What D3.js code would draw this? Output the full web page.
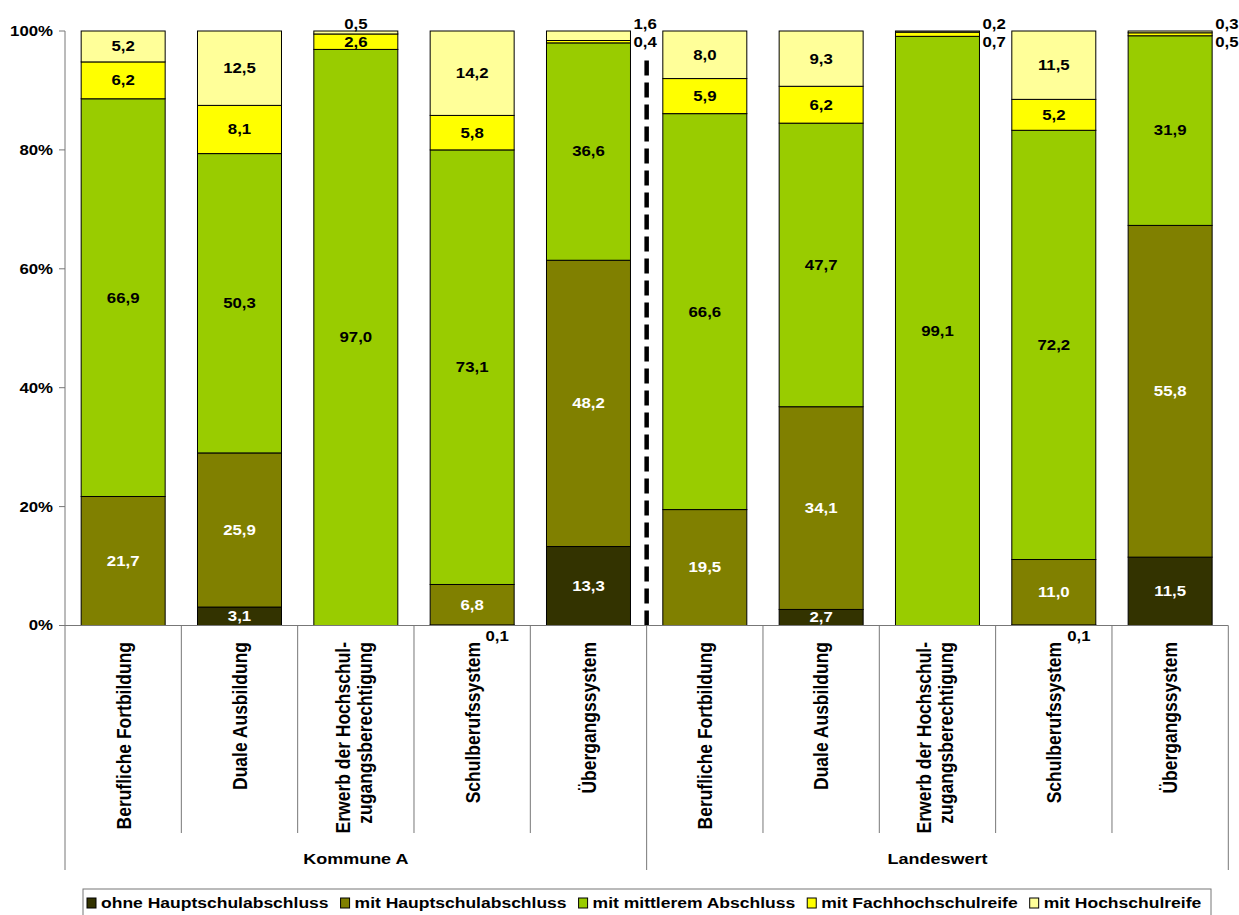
<!DOCTYPE html>
<html>
<head>
<meta charset="utf-8">
<script src="https://cdn.jsdelivr.net/npm/d3@7"></script>
<style>
  body { margin: 0; background: #fff; }
  text { font-family: "Liberation Sans", Arial, sans-serif; font-weight: bold; }
</style>
</head>
<body>
<div id="chart"></div>
<script>
// categories and groups
const categories = ["Berufliche Fortbildung", "Duale Ausbildung", "Erwerb der Hochschul-|zugangsberechtigung", "Schulberufssystem", "Übergangssystem"];
const groups = ["Kommune A", "Landeswert"];
const seriesNames = ["ohne Hauptschulabschluss", "mit Hauptschulabschluss", "mit mittlerem Abschluss", "mit Fachhochschulreife", "mit Hochschulreife"];
const seriesColors = ["#333300", "#808000", "#99cc00", "#ffff00", "#ffff99"];
const yTicks = [0, 0.2, 0.4, 0.6, 0.8, 1];

// values per series, first 5 = Kommune A, last 5 = Landeswert
const ohne  = [0, 3.1, 0, 0.1, 13.3, 0, 2.7, 0, 0.1, 11.5];
const mitHS = [21.7, 25.9, 0, 6.8, 48.2, 19.5, 34.1, 0, 11.0, 55.8];
const mittl = [66.9, 50.3, 97.0, 73.1, 36.6, 66.6, 47.7, 99.1, 72.2, 31.9];
const fhr   = [6.2, 8.1, 2.6, 5.8, 0.4, 5.9, 6.2, 0.7, 5.2, 0.5];
const hr    = [5.2, 12.5, 0.5, 14.2, 1.6, 8.0, 9.3, 0.2, 11.5, 0.3];

const seriesValues = [ohne, mitHS, mittl, fhr, hr];

// table for d3.stack
const rows = [];
groups.forEach((g, gi) => {
  categories.forEach((c, ci) => {
    let idx = gi * categories.length + ci;
    let r = { key: idx, cat: c, group: g };
    seriesValues.forEach((s, si) => { r["s" + si] = s[idx]; });
    rows.push(r);
  });
});

const W = 1239, H = 915;
const S = 1.2; // horizontal stretch of the text like the original
const plotL = 65, plotR = 1228.3, plotT = 31, plotB = 625.5;

let svg = d3.select("#chart").append("svg")
  .attr("width", W).attr("height", H);

let x = d3.scaleBand().domain(rows.map(d => d.key)).range([plotL, plotR]).padding(0);
let barW = x.bandwidth() * 0.722;
let y = d3.scaleLinear().domain([0, 1]).range([plotB, plotT]);

let stack = d3.stack().keys(seriesNames.map((s, i) => "s" + i)).offset(d3.stackOffsetExpand);
let stacked = stack(rows);

function place(sel, px, py, extra) {
  return sel.attr("transform", "translate(" + px + "," + py + ") scale(" + S + ",1)" + (extra || ""));
}

// y axis
let yAxis = svg.append("g");
yAxis.append("line").attr("x1", plotL).attr("x2", plotL).attr("y1", plotT).attr("y2", plotB)
  .attr("stroke", "#777").attr("stroke-width", 1);
yTicks.forEach(t => {
  yAxis.append("line").attr("x1", plotL - 6).attr("x2", plotL).attr("y1", y(t)).attr("y2", y(t))
    .attr("stroke", "#777");
  place(yAxis.append("text"), plotL - 12, y(t))
    .attr("text-anchor", "end").attr("dy", "0.35em").attr("font-size", 14)
    .text(d3.format(".0%")(t));
});

// bars
let layers = svg.selectAll(".layer").data(stacked).enter().append("g")
  .attr("class", "layer")
  .attr("fill", (d, i) => seriesColors[i]);

layers.selectAll("rect").data(d => d.filter(p => p[1] - p[0] > 0)).enter().append("rect")
  .attr("x", d => x(d.data.key) + (x.bandwidth() - barW) / 2)
  .attr("width", barW)
  .attr("y", d => y(d[1]))
  .attr("height", d => y(d[0]) - y(d[1]))
  .attr("stroke", "#000").attr("stroke-width", 1);

// value labels
let labels = svg.append("g");
stacked.forEach((layer, si) => {
  layer.forEach((p, bi) => {
    let v = seriesValues[si][bi];
    if (!v) return;
    let cx = x(p.data.key) + x.bandwidth() / 2;
    let barRight = cx + barW / 2;
    let fhSmall = fhr[bi] < 1;
    let px = cx, py = y((p[0] + p[1]) / 2), anchor = "middle";
    let outside = false;
    if (si === 0 && v < 1) { px = cx + 25; py = plotB + 11; outside = true; }
    else if (fhSmall && si === 4) { px = barRight + 3; py = y(1) - 7; anchor = "start"; outside = true; }
    else if (fhSmall && si === 3) { px = barRight + 3; py = y(1) + 11.5; anchor = "start"; outside = true; }
    else if (si === 4 && v < 1) { py = y(1) - 7; outside = true; }
    place(labels.append("text"), px, py)
      .attr("text-anchor", anchor).attr("dy", "0.35em").attr("font-size", 14)
      .attr("fill", (si < 2 && !outside) ? "#fff" : "#000")
      .text(d3.format(".1f")(v).replace(".", ","));
  });
});

// dashed separator between the two groups
let midX = x(categories.length);
svg.append("line").attr("x1", midX).attr("x2", midX).attr("y1", plotB).attr("y2", 60)
  .attr("stroke", "#000").attr("stroke-width", 4.5).attr("stroke-dasharray", "15,7");

// x axis
let xAxis = svg.append("g");
xAxis.append("line").attr("x1", plotL).attr("x2", plotR).attr("y1", plotB).attr("y2", plotB)
  .attr("stroke", "#777");
rows.forEach((d, i) => {
  let lx = x(d.key);
  let longTick = i % categories.length === 0;
  xAxis.append("line").attr("x1", lx).attr("x2", lx).attr("y1", plotB)
    .attr("y2", longTick ? 870 : 833).attr("stroke", "#777");
  let cx = lx + x.bandwidth() / 2;
  let lines = d.cat.split("|");
  let t = place(xAxis.append("text"), cx, 642, " rotate(-90)")
    .attr("text-anchor", "end").attr("font-size", 17.5);
  lines.forEach((ln, li) => {
    t.append("tspan").attr("x", 0)
      .attr("dy", lines.length === 1 ? "0.35em" : (li === 0 ? "-0.3em" : "1.05em"))
      .text(ln);
  });
});
xAxis.append("line").attr("x1", plotR).attr("x2", plotR).attr("y1", plotB).attr("y2", 870)
  .attr("stroke", "#777");
groups.forEach((g, gi) => {
  let gx = (x(gi * categories.length) + (gi === groups.length - 1 ? plotR : x((gi + 1) * categories.length))) / 2;
  place(xAxis.append("text"), gx, 859).attr("text-anchor", "middle").attr("dy", "0.35em")
    .attr("font-size", 15).text(g);
});

// legend
let legend = svg.append("g");
legend.append("rect").attr("x", 83).attr("y", 889).attr("width", 1128).attr("height", 40)
  .attr("fill", "#fff").attr("stroke", "#777");
let lx = 87;
seriesNames.forEach((s, i) => {
  legend.append("rect").attr("x", lx).attr("y", 898).attr("width", 9).attr("height", 10)
    .attr("fill", seriesColors[i]).attr("stroke", "#000");
  let t = place(legend.append("text"), lx + 14, 903).attr("dy", "0.35em").attr("font-size", 14.6).text(s);
  lx += 14 + t.node().getComputedTextLength() * S + 12;
});
</script>
</body>
</html>
